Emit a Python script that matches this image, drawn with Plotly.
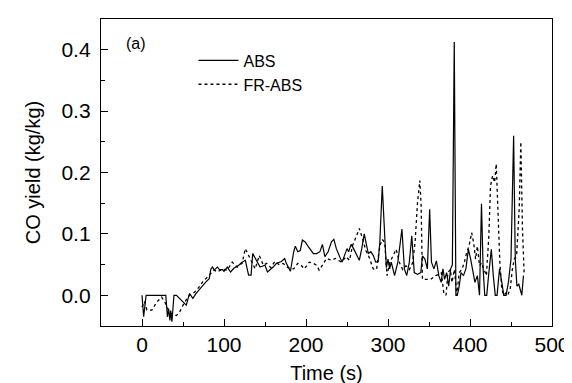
import plotly.graph_objects as go

# ABS (solid)
abs_t = [0, 2, 5, 10, 15, 20, 25, 29, 31, 32.5, 34, 35, 36.5, 39, 42, 46, 50, 54, 58, 62,
         66, 70, 74, 78, 82, 84, 86, 88, 92, 95, 98, 100, 104, 108, 112, 118, 122, 126, 130, 133,
         135, 137, 141, 144, 150, 153, 160, 164, 170, 174, 176, 181, 185, 187, 190, 193, 195.6, 199, 203, 209,
         213, 217, 220, 223, 227, 231, 234, 237, 241, 244, 247, 250, 252, 255, 258, 261, 265, 268, 271, 273,
         276, 279, 282, 285, 288, 290, 293, 296, 298, 300, 302, 304, 308, 312, 317, 320, 322.8, 326, 329, 332,
         336, 340, 342, 345, 348, 350.8, 353, 356, 359, 362, 364.8, 367, 369, 371.5, 374, 376.4, 378.5, 380.8, 382.8, 384.5,
         386.8, 389, 392, 395, 398, 400.8, 403, 406, 409, 411.6, 414, 416, 418, 420.4, 423, 426, 428.4, 430.8, 433, 436,
         438.8, 441.2, 444, 446.8, 450, 453.2, 455.2, 457.2, 459.5, 461.2, 463.2, 465.2]
abs_y = [0.0, -0.035, 0.0, 0.0, 0.0, 0.0, 0.0, 0.0, -0.035, -0.022, -0.041, -0.025, -0.043, 0.0, 0.0, -0.005, -0.01, -0.016, 0.003, -0.005,
         0.003, 0.01, 0.016, 0.022, 0.027, 0.043, 0.046, 0.041, 0.046, 0.041, 0.042, 0.039, 0.046, 0.038, 0.044, 0.049, 0.054, 0.057, 0.033, 0.033,
         0.068, 0.0625, 0.052, 0.046, 0.049, 0.038, 0.046, 0.052, 0.055, 0.06, 0.052, 0.039, 0.071, 0.08, 0.071, 0.073, 0.09, 0.087, 0.079, 0.068,
         0.068, 0.071, 0.083, 0.063, 0.071, 0.087, 0.091, 0.076, 0.063, 0.054, 0.065, 0.076, 0.071, 0.083, 0.076, 0.068, 0.057, 0.076, 0.1, 0.087,
         0.068, 0.071, 0.065, 0.054, 0.055, 0.086, 0.178, 0.097, 0.045, 0.059, 0.043, 0.054, 0.032, 0.054, 0.108, 0.043, 0.032, 0.054, 0.097, 0.037,
         0.034, 0.037, 0.064, 0.059, 0.043, 0.14, 0.054, 0.043, 0.056, 0.032, 0.021, 0.043, 0.026, 0.037, 0.015, 0.043, 0.05, 0.4126, 0.0, 0.0,
         0.015, 0.037, 0.032, 0.043, 0.075, 0.059, 0.043, 0.021, 0.032, 0.0, 0.149, 0.043, 0.0, 0.0, 0.037, 0.075, 0.032, 0.0, 0.0, 0.043,
         0.021, 0.0, 0.0, 0.021, 0.059, 0.26, 0.059, 0.015, 0.018, 0.01, 0.0, 0.032]

# FR-ABS (dotted)
fr_t = [0, 3, 6, 12, 18, 24, 30, 33, 36, 42, 46, 52, 58, 64, 70, 74, 80, 84, 88, 92,
        98, 104, 110, 116, 122, 126, 130, 134, 138, 143, 148, 152, 157, 162, 167, 172, 178, 185, 190, 194,
        198, 204, 209, 213, 216, 220, 225, 231, 236, 243, 249, 253, 257, 262, 265, 269, 273, 277, 282, 286,
        290, 293, 296, 298.8, 302, 306, 310, 314, 318, 322, 326, 330, 333, 336, 338.8, 340.4, 342, 346, 352, 358,
        362, 365, 368, 370.8, 373, 376, 378, 381, 384, 386.8, 390, 393, 396, 398.8, 402, 404.4, 406.8, 409, 411.6, 414,
        417, 420, 423, 425, 427.6, 430, 432, 434, 436.4, 438.8, 441.2, 444, 446, 449, 451.6, 454, 456.8, 460, 462, 464, 466]
fr_y = [-0.019, -0.01, -0.024, -0.024, -0.011, -0.003, -0.016, -0.027, -0.03, -0.033, -0.027, -0.011, 0.0, 0.005, 0.014, 0.022, 0.03, 0.035, 0.041, 0.038,
        0.043, 0.041, 0.054, 0.046, 0.052, 0.076, 0.065, 0.052, 0.043, 0.065, 0.049, 0.052, 0.045, 0.055, 0.05, 0.052, 0.045, 0.043, 0.052, 0.049,
        0.043, 0.054, 0.052, 0.049, 0.041, 0.049, 0.06, 0.057, 0.06, 0.054, 0.063, 0.057, 0.082, 0.098, 0.109, 0.092, 0.073, 0.062, 0.043, 0.042,
        0.08, 0.091, 0.086, 0.032, 0.053, 0.064, 0.075, 0.053, 0.042, 0.048, 0.042, 0.053, 0.086, 0.151, 0.187, 0.146, 0.026, 0.026, 0.026, 0.032,
        0.034, 0.037, 0.004, 0.0, 0.037, 0.042, 0.021, 0.042, 0.0, 0.037, 0.042, 0.053, 0.07, 0.08, 0.102, 0.086, 0.059, 0.08, 0.048, 0.053,
        0.042, 0.032, 0.097, 0.178, 0.195, 0.184, 0.214, 0.129, 0.053, 0.01, 0.0, 0.004, 0.0, 0.01, 0.042, 0.059, 0.064, 0.14, 0.25, 0.108, 0.037]

x_ticks = [0, 100, 200, 300, 400, 500]
y_ticks = [0.0, 0.1, 0.2, 0.3, 0.4]

FONT = "Liberation Sans, Arial, sans-serif"

fig = go.Figure()
fig.add_trace(go.Scatter(x=abs_t, y=abs_y, mode="lines", name="ABS",
                         line=dict(color="black", width=1.2)))
fig.add_trace(go.Scatter(x=fr_t, y=fr_y, mode="lines", name="FR-ABS",
                         line=dict(color="black", width=1.3, dash="dot")))

axis_common = dict(showline=True, linecolor="black", linewidth=1.3, mirror=True,
                   ticks="inside", ticklen=7, tickwidth=1.2, tickcolor="black",
                   showgrid=False, zeroline=False,
                   tickfont=dict(family=FONT, size=21, color="black"))

fig.update_xaxes(range=[-50, 500], tickvals=x_ticks, ticktext=[str(v) for v in x_ticks],
                 minor=dict(ticks="inside", ticklen=4, tickwidth=1.2, tickcolor="black", dtick=50, tick0=0),
                 title=dict(text="Time (s)", font=dict(family=FONT, size=20, color="black"), standoff=10),
                 **axis_common)
fig.update_yaxes(range=[-0.05, 0.45], tickvals=y_ticks, ticktext=[f"{v:.1f}" for v in y_ticks],
                 ticklabelstandoff=5,
                 minor=dict(ticks="inside", ticklen=4, tickwidth=1.2, tickcolor="black", dtick=0.05, tick0=0),
                 title=dict(text="CO yield (kg/kg)", font=dict(family=FONT, size=20, color="black"), standoff=15),
                 **axis_common)

fig.add_annotation(text="(a)", xref="paper", yref="paper", x=0.052, y=0.92, xanchor="left", yanchor="middle",
                   showarrow=False, font=dict(family=FONT, size=16, color="black"))

fig.update_layout(width=572, height=383, margin=dict(l=93, r=18, t=10, b=65),
                  paper_bgcolor="white", plot_bgcolor="white",
                  legend=dict(x=0.205, y=0.92, xanchor="left", yanchor="top", bgcolor="rgba(0,0,0,0)",
                              font=dict(family=FONT, size=16, color="black"), tracegroupgap=0,
                              itemwidth=40),
                  showlegend=True)

fig.write_html("out.html")
